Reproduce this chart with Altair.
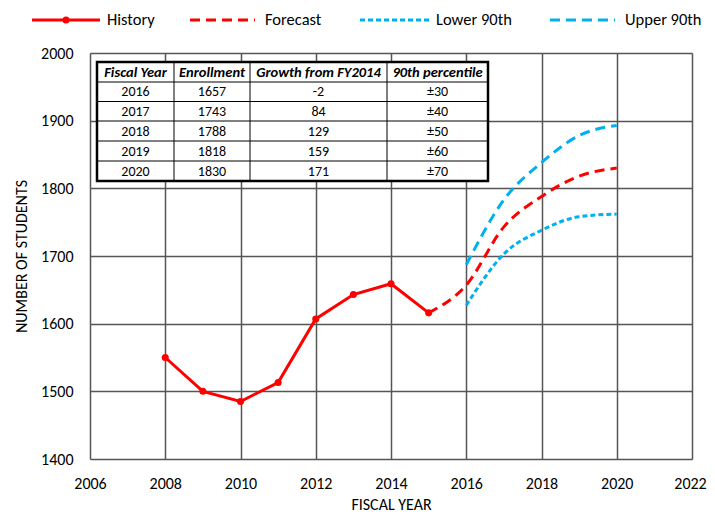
import altair as alt
import pandas as pd

# ---------------- data ----------------
history_years = [2008, 2009, 2010, 2011, 2012, 2013, 2014, 2015]
history_values = [1550, 1500, 1485, 1513, 1607, 1643, 1659, 1616]

forecast_years = [2015, 2016, 2017, 2018, 2019, 2020]
forecast_values = [1616, 1657, 1743, 1788, 1818, 1830]

band_years = [2016, 2017, 2018, 2019, 2020]
lower_values = [1627, 1703, 1738, 1758, 1762]
upper_values = [1687, 1783, 1838, 1878, 1893]

series_names = ["History", "Forecast", "Lower 90th", "Upper 90th"]
series_colors = ["#FF0000", "#FF0000", "#00B0F0", "#00B0F0"]
series_dashes = [[1, 0], [10, 6], [5, 3], [10, 6]]

table_header = ["Fiscal Year", "Enrollment", "Growth from FY2014", "90th percentile"]
table_years = ["2016", "2017", "2018", "2019", "2020"]
table_enroll = ["1657", "1743", "1788", "1818", "1830"]
table_growth = ["-2", "84", "129", "159", "171"]
table_pct = ["±30", "±40", "±50", "±60", "±70"]

x_ticks = list(range(2006, 2023, 2))
y_ticks = list(range(1400, 2001, 100))

# ---------------- layout (pixels relative to plot area) ----------------
FONT = "Carlito, Lato, sans-serif"
col_edges = [7, 84, 160, 297, 398]
row_edges = [9, 29, 48.5, 68, 88, 108, 128]
legend_sym_x0 = [-58, 100, 270, 460]
legend_sym_x1 = [10, 165, 340, 525]
legend_text_x = [17, 175, 346, 535]
legend_y = -33

# ---------------- frames ----------------
hist_df = pd.DataFrame({"year": history_years, "value": history_values, "series": "History"})
smooth_df = pd.concat([
    pd.DataFrame({"year": forecast_years, "value": forecast_values, "series": "Forecast"}),
    pd.DataFrame({"year": band_years, "value": lower_values, "series": "Lower 90th"}),
    pd.DataFrame({"year": band_years, "value": upper_values, "series": "Upper 90th"}),
], ignore_index=True)

color_scale = alt.Scale(domain=series_names, range=series_colors)
dash_scale = alt.Scale(domain=series_names, range=series_dashes)

xs = alt.Scale(domain=[2006, 2022], nice=False, zero=False)
ys = alt.Scale(domain=[1400, 2000], nice=False, zero=False)

x_axis = alt.Axis(values=x_ticks, format="d", title="FISCAL YEAR", grid=True,
                  gridColor="#555555", gridWidth=1.5, ticks=False, domain=False,
                  labelPadding=16, titlePadding=5, labelFontSize=16, titleFontSize=16,
                  titleFontWeight="normal", labelColor="#000", titleColor="#000",
                  labelFont=FONT, titleFont=FONT, labelFlush=False,
                  labelOffset=alt.expr("datum.value == 2022 ? -2 : 0"))
y_axis = alt.Axis(values=y_ticks, format="d", title="NUMBER OF STUDENTS", grid=True,
                  gridColor="#555555", gridWidth=1.5, ticks=False, domain=False,
                  labelPadding=17, titlePadding=11, labelFontSize=16, titleFontSize=16,
                  titleFontWeight="normal", labelColor="#000", titleColor="#000",
                  labelFont=FONT, titleFont=FONT)

hist_line = alt.Chart(hist_df).mark_line(strokeWidth=3, color="#FF0000").encode(
    x=alt.X("year:Q", scale=xs, axis=x_axis),
    y=alt.Y("value:Q", scale=ys, axis=y_axis),
)
hist_pts = alt.Chart(hist_df).mark_point(filled=True, size=50, opacity=1, color="#FF0000").encode(
    x="year:Q", y="value:Q"
)
smooth_lines = alt.Chart(smooth_df).mark_line(strokeWidth=3, interpolate="monotone").encode(
    x="year:Q", y="value:Q",
    color=alt.Color("series:N", scale=color_scale, legend=None),
    strokeDash=alt.StrokeDash("series:N", scale=dash_scale, legend=None),
    detail="series:N",
)

# ---------------- table ----------------
cells = []
rows = [table_header] + [list(r) for r in zip(table_years, table_enroll, table_growth, table_pct)]
for r, row in enumerate(rows):
    for c, txt in enumerate(row):
        cells.append({"px": (col_edges[c] + col_edges[c + 1]) / 2,
                      "py": (row_edges[r] + row_edges[r + 1]) / 2 + 0.5,
                      "txt": txt, "hdr": r == 0})
cells_df = pd.DataFrame(cells)

box_df = pd.DataFrame({"x0": [col_edges[0]], "x1": [col_edges[-1]],
                       "y0": [row_edges[0]], "y1": [row_edges[-1]]})
vlines_df = pd.DataFrame({"x0": col_edges[1:-1], "y0": row_edges[0], "y1": row_edges[-1]})
hlines_df = pd.DataFrame({"y0": row_edges[1:-1], "x0": col_edges[0], "x1": col_edges[-1]})


def px(f):
    return alt.X(f, scale=None, axis=None)


def py(f):
    return alt.Y(f, scale=None, axis=None)


box = alt.Chart(box_df).mark_rect(fill="white", stroke="black", strokeWidth=2).encode(
    x=px("x0:Q"), x2="x1:Q", y=py("y0:Q"), y2="y1:Q")
vlines = alt.Chart(vlines_df).mark_rule(color="black", strokeWidth=1).encode(
    x=px("x0:Q"), y=py("y0:Q"), y2="y1:Q")
hlines = alt.Chart(hlines_df).mark_rule(color="black", strokeWidth=1).encode(
    y=py("y0:Q"), x=px("x0:Q"), x2="x1:Q")
box_outline = alt.Chart(box_df).mark_rect(fill=None, stroke="black", strokeWidth=2.5).encode(
    x=px("x0:Q"), x2="x1:Q", y=py("y0:Q"), y2="y1:Q")
hdr_text = alt.Chart(cells_df[cells_df.hdr]).mark_text(
    font=FONT, fontSize=14.5, fontWeight="bold", fontStyle="italic", color="black", baseline="middle"
).encode(x=px("px:Q"), y=py("py:Q"), text="txt:N")
body_text = alt.Chart(cells_df[~cells_df.hdr]).mark_text(
    font=FONT, fontSize=14, color="black", baseline="middle"
).encode(x=px("px:Q"), y=py("py:Q"), text="txt:N")

# ---------------- legend ----------------
leg_df = pd.DataFrame({"series": series_names, "x0": legend_sym_x0, "x1": legend_sym_x1,
                       "tx": legend_text_x, "ly": legend_y})
leg_lines = alt.Chart(leg_df).mark_rule(strokeWidth=3).encode(
    x=px("x0:Q"), x2="x1:Q", y=py("ly:Q"),
    color=alt.Color("series:N", scale=color_scale, legend=None),
    strokeDash=alt.StrokeDash("series:N", scale=dash_scale, legend=None),
)
leg_dot = alt.Chart(leg_df.iloc[[0]]).transform_calculate(mx="(datum.x0 + datum.x1) / 2").mark_point(
    filled=True, size=50, opacity=1, color="#FF0000").encode(x=px("mx:Q"), y=py("ly:Q"))
leg_text = alt.Chart(leg_df).mark_text(font=FONT, fontSize=16.5, align="left", baseline="middle",
                                       color="black").encode(
    x=px("tx:Q"), y=py("ly:Q"), text="series:N")

chart = alt.layer(
    hist_line, smooth_lines, hist_pts,
    box, vlines, hlines, box_outline, hdr_text, body_text,
    leg_lines, leg_dot, leg_text,
).properties(
    width=602, height=406,
    autosize=alt.AutoSizeParams(type="none"),
    padding={"left": 82, "top": 45, "right": 15, "bottom": 56},
).configure_view(stroke="black", strokeWidth=1.5).configure(background="white")

chart.save("out.html", embed_options={"renderer": "svg", "actions": False})
